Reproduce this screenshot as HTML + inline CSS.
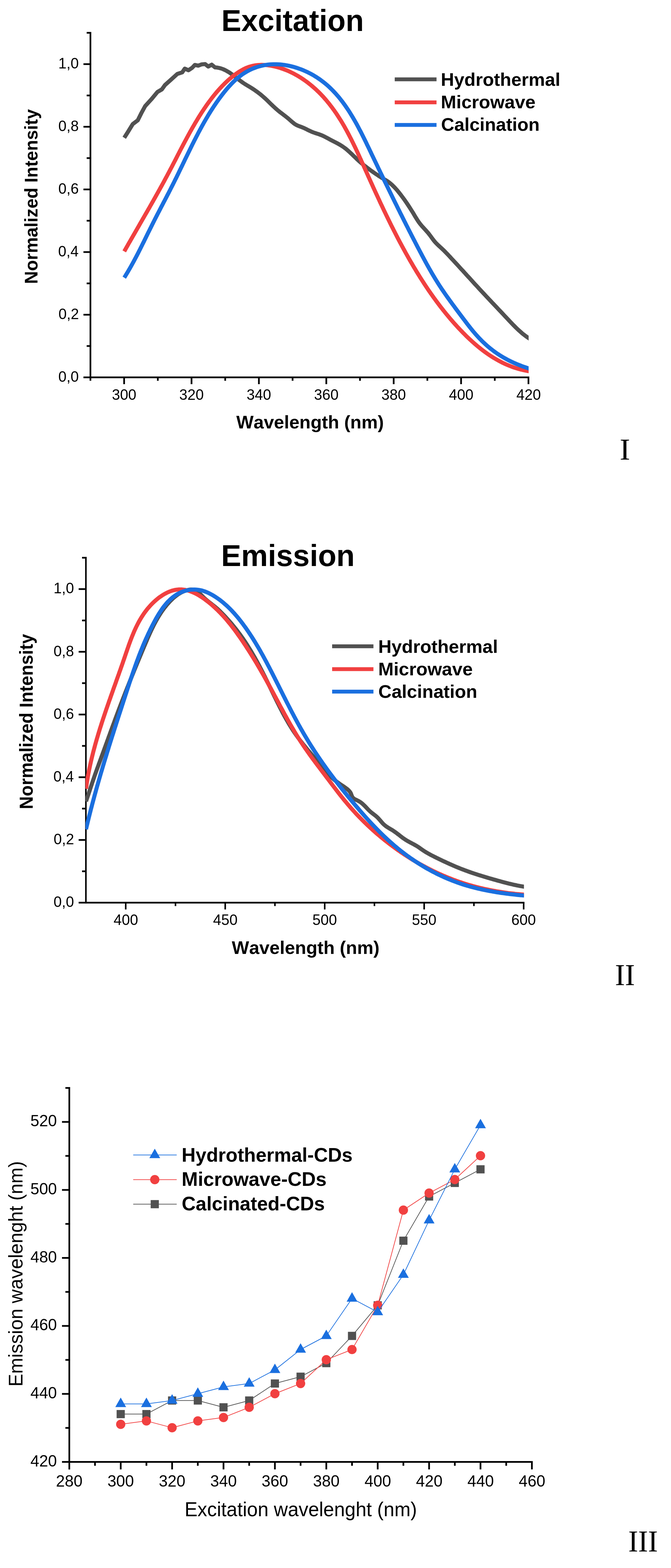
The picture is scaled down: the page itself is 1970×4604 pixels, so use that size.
<!DOCTYPE html>
<html lang="en">
<head>
<meta charset="utf-8">
<title>Excitation and emission spectra</title>
<style>
html,body{margin:0;padding:0;background:#fff;}
body{width:1970px;height:4604px;overflow:hidden;}
svg{display:block;font-kerning:none;font-variant-ligatures:none;}
.ta{font-family:"Liberation Sans",sans-serif;fill:#000;}
.ts{font-family:"Liberation Serif",serif;fill:#000;}
.b{font-weight:bold;}
</style>
</head>
<body>
<svg width="1970" height="4604" viewBox="0 0 1970 4604" role="img" aria-label="Excitation and emission spectra of carbon dots">
<rect x="0" y="0" width="1970" height="4604" fill="#fff"/>
<clipPath id="c1"><rect x="0" y="0" width="1552" height="1200"/></clipPath>
<path d="M364.8 404.5 L375.4 387.7 L389.9 364.2 L404.4 353.3 L415.3 331.5 L426.2 311.5 L444.4 291.6 L462.5 269.8 L475.2 262.5 L484.3 249.8 L502.5 233.5 L520.6 217.2 L535.1 212.4 L542.4 201.5 L553.3 206.3 L564.2 199 L572.1 190.7 L582.3 192.8 L591.4 189.2 L602.3 188.1 L611.3 195.4 L621.5 189.9 L631.3 197.9 L637.3 198.4 L643.2 199.5 L649 201 L654.7 203 L660.2 205.5 L665.6 208.3 L670.7 211.3 L675.8 214.6 L680.7 218.1 L685.5 221.7 L690.3 225.4 L695.1 229.1 L699.8 232.8 L704.5 236.5 L709.4 240.1 L714.3 243.6 L719.3 246.9 L724.4 250 L729.6 253.1 L734.8 256.2 L739.9 259.4 L745 262.7 L749.9 266.1 L754.8 269.6 L759.6 273.2 L764.4 276.9 L769 280.8 L773.6 284.7 L778.1 288.7 L782.5 292.8 L786.8 297 L791.1 301.2 L795.4 305.4 L799.8 309.6 L804.1 313.7 L808.6 317.8 L813.1 321.8 L817.7 325.7 L822.4 329.5 L827.2 333.1 L832 336.7 L836.8 340.4 L841.5 344.1 L846.2 347.9 L850.7 351.9 L855.2 355.9 L859.8 359.8 L864.5 363.5 L869.6 366.7 L875.1 369.3 L880.7 371.4 L886.4 373.4 L891.9 375.7 L897.4 378.3 L902.7 381.1 L908.1 383.7 L913.6 386.2 L919.2 388.5 L924.9 390.5 L930.6 392.3 L936.3 394.2 L942 396.3 L947.5 398.6 L953 401.2 L958.3 404 L963.6 406.8 L968.9 409.7 L974.2 412.5 L979.6 415.3 L985 418 L990.3 420.8 L995.6 423.7 L1000.8 426.8 L1005.8 430 L1010.8 433.5 L1015.6 437.1 L1020.2 441 L1024.7 445 L1029.1 449.1 L1033.5 453.2 L1037.8 457.4 L1042.1 461.6 L1046.4 465.8 L1050.8 469.9 L1055.3 474 L1059.8 477.9 L1064.5 481.8 L1069.1 485.6 L1073.8 489.3 L1078.6 493 L1083.4 496.6 L1088.3 500.2 L1093.2 503.7 L1098.1 507.2 L1103.1 510.6 L1108.1 513.9 L1113.1 517.3 L1118.2 520.5 L1123.3 523.7 L1128.5 526.7 L1133.7 529.7 L1138.8 533 L1143.6 536.6 L1148.2 540.4 L1152.7 544.5 L1156.9 548.7 L1161.1 553.1 L1165.1 557.6 L1168.9 562.3 L1172.7 566.9 L1176.4 571.7 L1180 576.5 L1183.6 581.3 L1187.2 586.2 L1190.6 591.1 L1194.1 596.1 L1197.4 601.1 L1200.7 606.1 L1204 611.2 L1207.2 616.3 L1210.4 621.4 L1213.6 626.5 L1216.6 631.7 L1219.7 636.9 L1222.9 642 L1226.1 647.1 L1229.5 652.1 L1233.1 656.9 L1236.9 661.6 L1240.8 666.1 L1244.9 670.6 L1249 675 L1253 679.5 L1257 684 L1260.7 688.7 L1264.3 693.5 L1267.9 698.4 L1271.4 703.3 L1275.1 708 L1279.1 712.6 L1283.3 716.9 L1287.6 721 L1292.1 725.1 L1296.5 729.2 L1300.9 733.3 L1305.2 737.5 L1309.4 741.8 L1313.6 746.2 L1317.7 750.5 L1321.8 754.9 L1325.9 759.4 L1330 763.8 L1334.1 768.2 L1338.2 772.6 L1342.3 777.1 L1346.4 781.5 L1350.4 785.9 L1354.5 790.4 L1358.6 794.8 L1362.6 799.3 L1366.7 803.7 L1370.7 808.2 L1374.8 812.6 L1378.9 817.1 L1382.9 821.5 L1387 826 L1391 830.4 L1395.1 834.9 L1399.2 839.3 L1403.3 843.7 L1407.3 848.2 L1411.4 852.6 L1415.5 857 L1419.6 861.4 L1423.7 865.8 L1427.8 870.2 L1432 874.6 L1436.1 879 L1440.2 883.4 L1444.3 887.8 L1448.5 892.1 L1452.6 896.5 L1456.8 900.9 L1460.9 905.3 L1465 909.7 L1469.2 914 L1473.3 918.4 L1477.4 922.8 L1481.5 927.2 L1485.7 931.6 L1489.8 936 L1493.9 940.4 L1498 944.8 L1502.2 949.2 L1506.3 953.5 L1510.6 957.8 L1514.8 962 L1519.2 966.2 L1523.6 970.3 L1528.1 974.3 L1532.6 978.3 L1537.3 982.1 L1542.1 985.7 L1546.9 989.3 L1551.9 992.7 L1558.4 997.3" fill="none" stroke="#515151" stroke-width="11.9" stroke-linejoin="round" stroke-linecap="butt" clip-path="url(#c1)"/>
<path d="M364.8 738.1 L367.3 733.7 L369.7 729.4 L372.2 725 L374.7 720.7 L377.1 716.3 L379.6 712 L382.1 707.7 L384.6 703.3 L387.1 699 L389.6 694.6 L392.1 690.3 L394.6 686 L397.1 681.6 L399.6 677.3 L402.1 672.9 L404.6 668.6 L407.1 664.3 L409.5 659.9 L412 655.6 L414.5 651.3 L417 646.9 L419.5 642.6 L422 638.3 L424.5 633.9 L427 629.6 L429.5 625.2 L432 620.9 L434.5 616.6 L437 612.2 L439.5 607.9 L441.9 603.5 L444.4 599.2 L446.9 594.8 L449.4 590.5 L451.8 586.1 L454.3 581.8 L456.7 577.4 L459.2 573 L461.6 568.7 L464.1 564.3 L466.5 559.9 L468.9 555.6 L471.3 551.2 L473.8 546.8 L476.2 542.4 L478.6 538 L481 533.6 L483.4 529.2 L485.7 524.8 L488.1 520.4 L490.5 516 L492.8 511.6 L495.2 507.2 L497.5 502.8 L499.8 498.3 L502.1 493.9 L504.5 489.5 L506.8 485 L509.1 480.6 L511.4 476.1 L513.7 471.7 L516 467.2 L518.3 462.8 L520.5 458.4 L522.8 453.9 L525.1 449.5 L527.4 445 L529.7 440.6 L532 436.1 L534.4 431.7 L536.7 427.3 L539 422.8 L541.4 418.4 L543.7 414 L546.1 409.6 L548.4 405.2 L550.8 400.8 L553.2 396.4 L555.6 392 L558 387.6 L560.5 383.3 L562.9 378.9 L565.4 374.5 L567.9 370.2 L570.4 365.9 L572.9 361.6 L575.5 357.3 L578.1 353 L580.7 348.7 L583.3 344.4 L585.9 340.2 L588.6 336 L591.3 331.7 L594 327.5 L596.8 323.4 L599.5 319.2 L602.4 315.1 L605.2 310.9 L608.1 306.8 L611 302.8 L613.9 298.7 L616.9 294.7 L619.9 290.7 L623 286.7 L626.1 282.8 L629.2 278.9 L632.4 275 L635.6 271.2 L638.8 267.4 L642.1 263.7 L645.5 259.9 L648.9 256.3 L652.3 252.6 L655.8 249.1 L659.4 245.5 L663 242 L666.6 238.6 L670.3 235.2 L674 231.9 L677.8 228.7 L681.7 225.5 L685.6 222.3 L689.6 219.3 L693.6 216.3 L697.7 213.5 L701.9 210.7 L706.1 208.1 L710.5 205.6 L714.9 203.2 L719.4 201 L723.9 199 L728.6 197.2 L733.3 195.6 L738.2 194.2 L743 193 L747.9 192.1 L752.9 191.4 L757.9 190.9 L762.9 190.6 L767.9 190.5 L772.9 190.6 L777.9 190.8 L782.9 191.2 L787.8 191.8 L792.8 192.5 L797.7 193.3 L802.6 194.3 L807.5 195.4 L812.4 196.6 L817.2 198 L822 199.4 L826.7 201 L831.4 202.6 L836.1 204.4 L840.8 206.2 L845.4 208.1 L850 210.2 L854.5 212.3 L859 214.5 L863.4 216.8 L867.8 219.2 L872.2 221.6 L876.5 224.2 L880.8 226.8 L885 229.5 L889.2 232.3 L893.3 235.1 L897.4 238 L901.4 240.9 L905.4 244 L909.3 247.1 L913.2 250.2 L917 253.4 L920.8 256.7 L924.6 260 L928.3 263.4 L931.9 266.8 L935.5 270.3 L939 273.8 L942.5 277.4 L946 281.1 L949.4 284.7 L952.7 288.5 L956 292.2 L959.2 296 L962.4 299.9 L965.6 303.8 L968.7 307.7 L971.7 311.7 L974.8 315.6 L977.7 319.7 L980.7 323.7 L983.5 327.8 L986.4 331.9 L989.2 336.1 L991.9 340.3 L994.6 344.5 L997.3 348.7 L1000 352.9 L1002.6 357.2 L1005.2 361.5 L1007.7 365.8 L1010.2 370.1 L1012.7 374.5 L1015.1 378.9 L1017.5 383.2 L1019.9 387.6 L1022.3 392.1 L1024.6 396.5 L1026.9 400.9 L1029.2 405.4 L1031.5 409.8 L1033.7 414.3 L1035.9 418.8 L1038.1 423.3 L1040.3 427.8 L1042.5 432.3 L1044.6 436.8 L1046.7 441.4 L1048.9 445.9 L1051 450.4 L1053.1 455 L1055.1 459.5 L1057.2 464.1 L1059.3 468.6 L1061.3 473.2 L1063.4 477.7 L1065.5 482.3 L1067.5 486.9 L1069.5 491.4 L1071.6 496 L1073.6 500.6 L1075.7 505.1 L1077.7 509.7 L1079.8 514.3 L1081.8 518.8 L1083.9 523.4 L1085.9 528 L1088 532.5 L1090 537.1 L1092.1 541.6 L1094.2 546.2 L1096.2 550.8 L1098.3 555.3 L1100.4 559.9 L1102.5 564.4 L1104.6 569 L1106.7 573.5 L1108.8 578 L1110.9 582.6 L1113 587.1 L1115.1 591.7 L1117.2 596.2 L1119.3 600.7 L1121.5 605.2 L1123.6 609.8 L1125.7 614.3 L1127.9 618.8 L1130.1 623.3 L1132.2 627.8 L1134.4 632.3 L1136.6 636.8 L1138.8 641.3 L1141 645.8 L1143.2 650.3 L1145.4 654.8 L1147.6 659.3 L1149.8 663.8 L1152.1 668.2 L1154.3 672.7 L1156.6 677.2 L1158.9 681.6 L1161.1 686.1 L1163.4 690.5 L1165.7 695 L1168 699.4 L1170.3 703.9 L1172.7 708.3 L1175 712.7 L1177.4 717.1 L1179.7 721.5 L1182.1 725.9 L1184.5 730.3 L1186.9 734.7 L1189.3 739.1 L1191.7 743.5 L1194.2 747.9 L1196.6 752.2 L1199.1 756.6 L1201.5 760.9 L1204 765.3 L1206.5 769.6 L1209.1 773.9 L1211.6 778.2 L1214.1 782.6 L1216.7 786.9 L1219.3 791.1 L1221.8 795.4 L1224.4 799.7 L1227.1 804 L1229.7 808.2 L1232.3 812.5 L1235 816.7 L1237.7 820.9 L1240.4 825.1 L1243.1 829.3 L1245.8 833.5 L1248.6 837.7 L1251.3 841.9 L1254.1 846 L1256.9 850.2 L1259.7 854.3 L1262.6 858.4 L1265.4 862.6 L1268.3 866.6 L1271.2 870.7 L1274.1 874.8 L1277.1 878.8 L1280 882.9 L1283 886.9 L1286 890.9 L1289 894.9 L1292 898.9 L1295.1 902.9 L1298.2 906.8 L1301.3 910.7 L1304.4 914.6 L1307.5 918.5 L1310.7 922.4 L1313.9 926.3 L1317.1 930.1 L1320.3 934 L1323.5 937.8 L1326.8 941.5 L1330.1 945.3 L1333.4 949.1 L1336.7 952.8 L1340.1 956.5 L1343.5 960.2 L1346.9 963.9 L1350.3 967.5 L1353.8 971.1 L1357.2 974.7 L1360.7 978.3 L1364.3 981.8 L1367.8 985.4 L1371.4 988.9 L1375 992.3 L1378.6 995.8 L1382.3 999.2 L1386 1002.6 L1389.7 1005.9 L1393.5 1009.2 L1397.3 1012.5 L1401.1 1015.7 L1404.9 1018.9 L1408.8 1022 L1412.7 1025.1 L1416.7 1028.2 L1420.7 1031.2 L1424.7 1034.2 L1428.8 1037.1 L1432.9 1040 L1437 1042.8 L1441.2 1045.5 L1445.4 1048.2 L1449.7 1050.9 L1454 1053.4 L1458.3 1055.9 L1462.7 1058.4 L1467.1 1060.8 L1471.5 1063.1 L1476 1065.3 L1480.5 1067.5 L1485.1 1069.6 L1489.6 1071.6 L1494.3 1073.5 L1498.9 1075.3 L1503.6 1077.1 L1508.3 1078.8 L1513 1080.4 L1517.8 1081.9 L1522.6 1083.3 L1527.4 1084.6 L1532.3 1085.8 L1537.2 1087 L1542.1 1088 L1547 1088.9 L1551.9 1089.8 L1559.8 1091.2" fill="none" stroke="#F14040" stroke-width="11.9" stroke-linejoin="round" stroke-linecap="butt" clip-path="url(#c1)"/>
<path d="M364.8 815.2 L367.5 811 L370.1 806.7 L372.7 802.4 L375.3 798.1 L377.8 793.8 L380.3 789.5 L382.8 785.1 L385.2 780.8 L387.7 776.4 L390.1 772 L392.5 767.6 L394.9 763.2 L397.2 758.8 L399.5 754.4 L401.9 749.9 L404.2 745.5 L406.5 741 L408.7 736.6 L411 732.1 L413.2 727.6 L415.5 723.1 L417.7 718.7 L419.9 714.2 L422.2 709.7 L424.4 705.2 L426.6 700.7 L428.8 696.2 L431 691.7 L433.2 687.2 L435.4 682.7 L437.6 678.3 L439.8 673.8 L442.1 669.3 L444.3 664.8 L446.5 660.3 L448.8 655.8 L451 651.4 L453.3 646.9 L455.5 642.4 L457.8 638 L460.1 633.5 L462.4 629.1 L464.7 624.6 L467 620.2 L469.3 615.7 L471.6 611.3 L473.9 606.8 L476.2 602.4 L478.5 598 L480.8 593.5 L483.2 589.1 L485.5 584.6 L487.8 580.2 L490.1 575.8 L492.4 571.3 L494.7 566.9 L497 562.4 L499.3 558 L501.5 553.5 L503.8 549 L506.1 544.6 L508.3 540.1 L510.6 535.6 L512.8 531.2 L515 526.7 L517.3 522.2 L519.5 517.7 L521.7 513.2 L523.9 508.7 L526 504.2 L528.2 499.7 L530.4 495.2 L532.6 490.7 L534.8 486.2 L536.9 481.6 L539.1 477.1 L541.3 472.6 L543.4 468.1 L545.6 463.6 L547.8 459.1 L550 454.6 L552.2 450.1 L554.4 445.6 L556.6 441.1 L558.8 436.6 L561 432.1 L563.2 427.6 L565.4 423.1 L567.7 418.7 L569.9 414.2 L572.2 409.7 L574.5 405.3 L576.8 400.8 L579.1 396.4 L581.4 391.9 L583.7 387.5 L586.1 383.1 L588.4 378.7 L590.8 374.3 L593.2 369.9 L595.7 365.5 L598.1 361.2 L600.6 356.8 L603.1 352.5 L605.6 348.1 L608.2 343.8 L610.7 339.5 L613.3 335.2 L615.9 331 L618.6 326.7 L621.3 322.5 L624 318.3 L626.7 314.1 L629.5 309.9 L632.3 305.8 L635.1 301.7 L638 297.6 L640.9 293.5 L643.8 289.4 L646.8 285.4 L649.8 281.4 L652.9 277.4 L655.9 273.5 L659.1 269.6 L662.2 265.7 L665.4 261.8 L668.7 258 L672 254.3 L675.4 250.6 L678.8 246.9 L682.3 243.3 L685.8 239.8 L689.5 236.4 L693.2 233 L696.9 229.7 L700.8 226.5 L704.7 223.4 L708.7 220.4 L712.8 217.5 L717 214.8 L721.3 212.1 L725.6 209.6 L730 207.2 L734.5 205 L739 202.9 L743.6 200.9 L748.3 199.1 L753 197.4 L757.8 195.9 L762.6 194.5 L767.4 193.2 L772.3 192.1 L777.2 191.2 L782.2 190.4 L787.1 189.7 L792.1 189.2 L797.1 188.9 L802.1 188.7 L807.1 188.6 L812.1 188.7 L817.1 188.9 L822.1 189.3 L827.1 189.7 L832.1 190.3 L837 191 L841.9 191.9 L846.9 192.8 L851.7 193.9 L856.6 195.1 L861.5 196.3 L866.3 197.7 L871.1 199.2 L875.8 200.8 L880.5 202.5 L885.2 204.2 L889.8 206.1 L894.5 208.1 L899 210.1 L903.5 212.2 L908 214.5 L912.5 216.8 L916.9 219.2 L921.2 221.7 L925.5 224.3 L929.7 226.9 L933.9 229.7 L938 232.5 L942.1 235.4 L946.1 238.4 L950.1 241.5 L954 244.6 L957.8 247.8 L961.6 251.1 L965.3 254.4 L969 257.9 L972.6 261.3 L976.1 264.9 L979.6 268.5 L983 272.1 L986.4 275.8 L989.7 279.6 L993 283.4 L996.2 287.2 L999.3 291.1 L1002.4 295.1 L1005.5 299 L1008.4 303.1 L1011.4 307.1 L1014.3 311.2 L1017.1 315.3 L1019.9 319.5 L1022.7 323.6 L1025.4 327.8 L1028.1 332.1 L1030.7 336.3 L1033.3 340.6 L1035.9 344.9 L1038.4 349.2 L1040.9 353.5 L1043.4 357.9 L1045.9 362.3 L1048.3 366.7 L1050.7 371.1 L1053 375.5 L1055.3 379.9 L1057.7 384.3 L1060 388.8 L1062.2 393.2 L1064.5 397.7 L1066.7 402.2 L1069 406.7 L1071.2 411.2 L1073.4 415.7 L1075.6 420.2 L1077.7 424.7 L1079.9 429.2 L1082.1 433.7 L1084.3 438.2 L1086.4 442.7 L1088.6 447.2 L1090.7 451.8 L1092.9 456.3 L1095.1 460.8 L1097.2 465.3 L1099.4 469.8 L1101.6 474.3 L1103.7 478.8 L1105.9 483.3 L1108.1 487.9 L1110.2 492.4 L1112.4 496.9 L1114.6 501.4 L1116.7 505.9 L1118.9 510.4 L1121.1 514.9 L1123.3 519.4 L1125.5 523.9 L1127.6 528.4 L1129.8 532.9 L1132 537.4 L1134.2 541.9 L1136.4 546.4 L1138.6 550.9 L1140.8 555.4 L1143 559.9 L1145.2 564.4 L1147.4 568.9 L1149.6 573.4 L1151.8 577.9 L1154 582.4 L1156.2 586.9 L1158.4 591.4 L1160.6 595.9 L1162.9 600.4 L1165.1 604.9 L1167.3 609.4 L1169.5 613.8 L1171.8 618.3 L1174 622.8 L1176.2 627.3 L1178.5 631.8 L1180.7 636.2 L1182.9 640.7 L1185.2 645.2 L1187.4 649.7 L1189.7 654.1 L1191.9 658.6 L1194.2 663.1 L1196.5 667.5 L1198.7 672 L1201 676.5 L1203.3 680.9 L1205.6 685.4 L1207.8 689.8 L1210.1 694.3 L1212.4 698.7 L1214.7 703.2 L1217 707.6 L1219.3 712.1 L1221.6 716.5 L1223.9 721 L1226.2 725.4 L1228.5 729.8 L1230.9 734.3 L1233.2 738.7 L1235.5 743.1 L1237.9 747.6 L1240.2 752 L1242.6 756.4 L1244.9 760.8 L1247.3 765.2 L1249.7 769.6 L1252.1 774 L1254.5 778.4 L1257 782.8 L1259.4 787.1 L1261.9 791.5 L1264.4 795.8 L1266.9 800.2 L1269.4 804.5 L1272 808.8 L1274.5 813.1 L1277.1 817.4 L1279.7 821.6 L1282.4 825.9 L1285 830.1 L1287.7 834.4 L1290.4 838.6 L1293.2 842.8 L1295.9 846.9 L1298.7 851.1 L1301.5 855.2 L1304.4 859.4 L1307.2 863.5 L1310.1 867.6 L1313 871.7 L1315.9 875.8 L1318.8 879.8 L1321.7 883.9 L1324.7 887.9 L1327.6 892 L1330.6 896 L1333.6 900 L1336.5 904.1 L1339.5 908.1 L1342.5 912.1 L1345.5 916.1 L1348.5 920.1 L1351.5 924.1 L1354.5 928.1 L1357.5 932.1 L1360.5 936.1 L1363.6 940.1 L1366.6 944.1 L1369.6 948.1 L1372.6 952.1 L1375.7 956 L1378.8 960 L1381.9 963.9 L1385 967.8 L1388.2 971.7 L1391.4 975.5 L1394.7 979.3 L1398 983.1 L1401.3 986.8 L1404.7 990.5 L1408.1 994.1 L1411.6 997.7 L1415.1 1001.3 L1418.7 1004.8 L1422.4 1008.2 L1426 1011.6 L1429.8 1014.9 L1433.6 1018.2 L1437.4 1021.4 L1441.3 1024.6 L1445.3 1027.6 L1449.2 1030.7 L1453.3 1033.6 L1457.4 1036.5 L1461.5 1039.3 L1465.7 1042 L1470 1044.7 L1474.2 1047.3 L1478.5 1049.9 L1482.9 1052.3 L1487.3 1054.7 L1491.7 1057.1 L1496.2 1059.3 L1500.7 1061.6 L1505.2 1063.7 L1509.7 1065.8 L1514.3 1067.8 L1518.9 1069.7 L1523.6 1071.6 L1528.2 1073.4 L1532.9 1075.2 L1537.6 1076.9 L1542.4 1078.5 L1547.1 1080.1 L1551.9 1081.6 L1559.5 1084.1" fill="none" stroke="#1A6FDF" stroke-width="11.9" stroke-linejoin="round" stroke-linecap="butt" clip-path="url(#c1)"/>
<rect x="263" y="93.8" width="5" height="1024.2" fill="#000"/>
<rect x="245" y="1105.5" width="1309" height="5" fill="#000"/>
<rect x="254.5" y="1013.5" width="8.5" height="5" fill="#000"/>
<rect x="245" y="921.6" width="18" height="5" fill="#000"/>
<rect x="254.5" y="829.6" width="8.5" height="5" fill="#000"/>
<rect x="245" y="737.6" width="18" height="5" fill="#000"/>
<rect x="254.5" y="645.6" width="8.5" height="5" fill="#000"/>
<rect x="245" y="553.7" width="18" height="5" fill="#000"/>
<rect x="254.5" y="461.7" width="8.5" height="5" fill="#000"/>
<rect x="245" y="369.7" width="18" height="5" fill="#000"/>
<rect x="254.5" y="277.8" width="8.5" height="5" fill="#000"/>
<rect x="245" y="185.8" width="18" height="5" fill="#000"/>
<rect x="254.5" y="93.8" width="8.5" height="5" fill="#000"/>
<rect x="361.9" y="1108" width="5" height="20" fill="#000"/>
<rect x="460.8" y="1108" width="5" height="10" fill="#000"/>
<rect x="559.8" y="1108" width="5" height="20" fill="#000"/>
<rect x="658.7" y="1108" width="5" height="10" fill="#000"/>
<rect x="757.6" y="1108" width="5" height="20" fill="#000"/>
<rect x="856.5" y="1108" width="5" height="10" fill="#000"/>
<rect x="955.5" y="1108" width="5" height="20" fill="#000"/>
<rect x="1054.4" y="1108" width="5" height="10" fill="#000"/>
<rect x="1153.3" y="1108" width="5" height="20" fill="#000"/>
<rect x="1252.2" y="1108" width="5" height="10" fill="#000"/>
<rect x="1351.2" y="1108" width="5" height="20" fill="#000"/>
<rect x="1450.1" y="1108" width="5" height="10" fill="#000"/>
<rect x="1549" y="1108" width="5" height="20" fill="#000"/>
<text class="ta" transform="translate(171.28 1120.70) scale(0.9670 1)" font-size="44.60">0,0</text>
<text class="ta" transform="translate(171.71 936.76) scale(0.9670 1)" font-size="44.60">0,2</text>
<text class="ta" transform="translate(170.85 752.82) scale(0.9670 1)" font-size="44.60">0,4</text>
<text class="ta" transform="translate(171.28 568.88) scale(0.9670 1)" font-size="44.60">0,6</text>
<text class="ta" transform="translate(171.28 384.94) scale(0.9670 1)" font-size="44.60">0,8</text>
<text class="ta" transform="translate(171.28 201.00) scale(0.9670 1)" font-size="44.60">1,0</text>
<text class="ta" transform="translate(328.41 1174.00) scale(0.9670 1)" font-size="44.60">300</text>
<text class="ta" transform="translate(526.26 1174.00) scale(0.9670 1)" font-size="44.60">320</text>
<text class="ta" transform="translate(724.10 1174.00) scale(0.9670 1)" font-size="44.60">340</text>
<text class="ta" transform="translate(921.95 1174.00) scale(0.9670 1)" font-size="44.60">360</text>
<text class="ta" transform="translate(1119.79 1174.00) scale(0.9670 1)" font-size="44.60">380</text>
<text class="ta" transform="translate(1318.07 1174.00) scale(0.9670 1)" font-size="44.60">400</text>
<text class="ta" transform="translate(1515.92 1174.00) scale(0.9670 1)" font-size="44.60">420</text>
<text class="ta b" transform="translate(693.80 1258.00) scale(0.9998 1)" font-size="53.78">Wavelength (nm)</text>
<text class="ta b" transform="translate(109.80 833.67) rotate(-90) scale(0.9627 1)" font-size="54.51">Normalized Intensity</text>
<text class="ta b" transform="translate(650.08 90.70) scale(0.9883 1)" font-size="88.52">Excitation</text>
<rect x="1158.9" y="227.3" width="122.7" height="11.3" fill="#515151"/>
<text class="ta b" transform="translate(1294.32 251.90) scale(1.0083 1)" font-size="53.49">Hydrothermal</text>
<rect x="1158.9" y="294.9" width="122.7" height="11.3" fill="#F14040"/>
<text class="ta b" transform="translate(1294.30 318.00) scale(1.0158 1)" font-size="53.49">Microwave</text>
<rect x="1158.9" y="361.2" width="122.7" height="11.3" fill="#1A6FDF"/>
<text class="ta b" transform="translate(1294.95 384.20) scale(1.0041 1)" font-size="53.49">Calcination</text>
<text class="ts" transform="translate(1819.29 1348.90) scale(1.0450 1)" font-size="88.70">I</text>
<rect x="249.9" y="1635.1" width="4.6" height="1017.8" fill="#000"/>
<rect x="230.9" y="2647.9" width="1308.8" height="5" fill="#000"/>
<rect x="240.9" y="2555.8" width="9" height="5" fill="#000"/>
<rect x="230.9" y="2463.8" width="19" height="5" fill="#000"/>
<rect x="240.9" y="2371.7" width="9" height="5" fill="#000"/>
<rect x="230.9" y="2279.6" width="19" height="5" fill="#000"/>
<rect x="240.9" y="2187.6" width="9" height="5" fill="#000"/>
<rect x="230.9" y="2095.5" width="19" height="5" fill="#000"/>
<rect x="240.9" y="2003.4" width="9" height="5" fill="#000"/>
<rect x="230.9" y="1911.3" width="19" height="5" fill="#000"/>
<rect x="240.9" y="1819.3" width="9" height="5" fill="#000"/>
<rect x="230.9" y="1727.2" width="19" height="5" fill="#000"/>
<rect x="240.9" y="1635.1" width="9" height="5" fill="#000"/>
<rect x="366.8" y="2650.4" width="4.6" height="20" fill="#000"/>
<rect x="512.9" y="2650.4" width="4.6" height="10" fill="#000"/>
<rect x="658.9" y="2650.4" width="4.6" height="20" fill="#000"/>
<rect x="804.9" y="2650.4" width="4.6" height="10" fill="#000"/>
<rect x="951" y="2650.4" width="4.6" height="20" fill="#000"/>
<rect x="1097" y="2650.4" width="4.6" height="10" fill="#000"/>
<rect x="1243" y="2650.4" width="4.6" height="20" fill="#000"/>
<rect x="1389.1" y="2650.4" width="4.6" height="10" fill="#000"/>
<rect x="1535.1" y="2650.4" width="4.6" height="20" fill="#000"/>
<clipPath id="c2"><rect x="250.8" y="1500" width="1287.5" height="1200"/></clipPath>
<path d="M252.5 2353 L253.8 2349.2 L255.1 2345.4 L256.4 2341.6 L257.7 2337.9 L259 2334.1 L260.3 2330.3 L261.5 2326.5 L262.8 2322.7 L264 2318.9 L265.3 2315.1 L266.5 2311.3 L267.8 2307.5 L269.1 2303.7 L270.3 2299.9 L271.6 2296.1 L272.9 2292.3 L274.2 2288.5 L275.5 2284.7 L276.8 2280.9 L278.1 2277.1 L279.4 2273.3 L280.8 2269.6 L282.1 2265.8 L283.5 2262 L284.8 2258.3 L286.2 2254.5 L287.6 2250.7 L289 2247 L290.3 2243.2 L291.7 2239.5 L293.1 2235.7 L294.5 2231.9 L295.9 2228.2 L297.2 2224.4 L298.6 2220.7 L300 2216.9 L301.3 2213.1 L302.7 2209.4 L304.1 2205.6 L305.5 2201.9 L306.8 2198.1 L308.2 2194.3 L309.6 2190.6 L310.9 2186.8 L312.3 2183 L313.7 2179.3 L315 2175.5 L316.4 2171.8 L317.8 2168 L319.1 2164.2 L320.5 2160.5 L321.9 2156.7 L323.3 2152.9 L324.6 2149.2 L326 2145.4 L327.4 2141.7 L328.7 2137.9 L330.1 2134.1 L331.5 2130.4 L332.9 2126.6 L334.3 2122.9 L335.7 2119.1 L337 2115.3 L338.4 2111.6 L339.8 2107.8 L341.2 2104.1 L342.6 2100.3 L344 2096.6 L345.4 2092.8 L346.8 2089.1 L348.2 2085.3 L349.6 2081.6 L351.1 2077.8 L352.5 2074.1 L353.9 2070.4 L355.3 2066.6 L356.8 2062.9 L358.2 2059.1 L359.6 2055.4 L361.1 2051.7 L362.5 2047.9 L364 2044.2 L365.4 2040.5 L366.9 2036.7 L368.3 2033 L369.8 2029.3 L371.3 2025.5 L372.7 2021.8 L374.2 2018.1 L375.7 2014.4 L377.2 2010.7 L378.6 2006.9 L380.1 2003.2 L381.6 1999.5 L383.1 1995.8 L384.6 1992.1 L386.1 1988.4 L387.6 1984.6 L389.1 1980.9 L390.6 1977.2 L392.1 1973.5 L393.6 1969.8 L395.1 1966.1 L396.6 1962.4 L398.1 1958.7 L399.7 1955 L401.2 1951.3 L402.7 1947.6 L404.2 1943.9 L405.8 1940.2 L407.3 1936.5 L408.8 1932.8 L410.4 1929.1 L411.9 1925.4 L413.5 1921.7 L415 1918 L416.5 1914.3 L418.1 1910.6 L419.6 1906.9 L421.2 1903.2 L422.7 1899.5 L424.3 1895.8 L425.9 1892.1 L427.4 1888.5 L429 1884.8 L430.6 1881.1 L432.1 1877.4 L433.7 1873.7 L435.3 1870.1 L436.9 1866.4 L438.6 1862.7 L440.2 1859.1 L441.9 1855.5 L443.6 1851.8 L445.3 1848.2 L447 1844.6 L448.8 1841 L450.6 1837.4 L452.4 1833.8 L454.2 1830.3 L456.1 1826.8 L458 1823.2 L460 1819.7 L462 1816.3 L464 1812.8 L466 1809.4 L468.2 1806 L470.3 1802.6 L472.5 1799.2 L474.7 1795.9 L477 1792.6 L479.4 1789.4 L481.7 1786.2 L484.2 1783 L486.7 1779.9 L489.2 1776.8 L491.8 1773.7 L494.5 1770.7 L497.2 1767.8 L499.9 1764.8 L502.7 1762 L505.6 1759.2 L508.5 1756.5 L511.5 1753.8 L514.6 1751.3 L517.8 1748.8 L521 1746.5 L524.3 1744.2 L527.7 1742.1 L531.2 1740.1 L534.8 1738.3 L538.4 1736.6 L542.1 1735.2 L545.9 1733.8 L549.8 1732.7 L553.7 1731.8 L557.6 1731.2 L561.6 1730.9 L565.6 1731.1 L569.5 1731.9 L573.3 1733.3 L576.8 1735.2 L580.1 1737.5 L583.2 1740 L586.2 1742.6 L589.1 1745.4 L592 1748.2 L594.8 1751.1 L597.6 1753.9 L600.5 1756.7 L603.5 1759.4 L606.5 1762 L609.6 1764.6 L612.7 1767.1 L615.8 1769.6 L619 1772 L622.1 1774.5 L625.3 1776.9 L628.4 1779.4 L631.6 1781.9 L634.7 1784.5 L637.7 1787.1 L640.7 1789.7 L643.6 1792.5 L646.5 1795.3 L649.3 1798.1 L652.1 1800.9 L654.9 1803.8 L657.7 1806.7 L660.4 1809.6 L663.1 1812.6 L665.8 1815.5 L668.5 1818.5 L671.2 1821.5 L673.8 1824.5 L676.5 1827.5 L679.1 1830.5 L681.7 1833.6 L684.2 1836.7 L686.8 1839.8 L689.3 1842.9 L691.8 1846 L694.3 1849.2 L696.7 1852.3 L699.1 1855.5 L701.5 1858.7 L703.9 1861.9 L706.3 1865.2 L708.6 1868.4 L710.9 1871.7 L713.2 1875 L715.5 1878.3 L717.7 1881.6 L719.9 1884.9 L722.1 1888.3 L724.3 1891.6 L726.5 1895 L728.6 1898.4 L730.7 1901.8 L732.8 1905.2 L734.9 1908.6 L737 1912 L739.1 1915.5 L741.1 1918.9 L743.1 1922.4 L745.1 1925.9 L747.1 1929.3 L749.1 1932.8 L751 1936.3 L753 1939.8 L754.9 1943.3 L756.8 1946.8 L758.7 1950.4 L760.6 1953.9 L762.5 1957.4 L764.3 1961 L766.2 1964.5 L768 1968.1 L769.8 1971.7 L771.7 1975.2 L773.5 1978.8 L775.3 1982.4 L777.1 1985.9 L778.8 1989.5 L780.6 1993.1 L782.4 1996.7 L784.2 2000.3 L785.9 2003.9 L787.7 2007.5 L789.4 2011.1 L791.2 2014.7 L792.9 2018.3 L794.7 2021.9 L796.4 2025.5 L798.1 2029.1 L799.9 2032.7 L801.6 2036.3 L803.4 2039.9 L805.1 2043.5 L806.9 2047.1 L808.7 2050.7 L810.4 2054.3 L812.2 2057.9 L814 2061.5 L815.8 2065.1 L817.6 2068.7 L819.4 2072.2 L821.2 2075.8 L823 2079.4 L824.8 2082.9 L826.7 2086.5 L828.5 2090 L830.4 2093.6 L832.3 2097.1 L834.2 2100.6 L836.1 2104.1 L838.1 2107.6 L840 2111.1 L842 2114.6 L844 2118.1 L846 2121.5 L848 2125 L850.1 2128.4 L852.2 2131.8 L854.3 2135.2 L856.4 2138.6 L858.6 2142 L860.8 2145.4 L863 2148.7 L865.3 2152 L867.5 2155.3 L869.8 2158.6 L872.2 2161.8 L874.5 2165.1 L876.9 2168.3 L879.3 2171.5 L881.7 2174.7 L884.2 2177.8 L886.7 2181 L889.1 2184.1 L891.6 2187.3 L894.2 2190.4 L896.7 2193.5 L899.2 2196.6 L901.8 2199.7 L904.3 2202.7 L906.9 2205.8 L909.5 2208.9 L912 2211.9 L914.6 2215 L917.2 2218.1 L919.8 2221.1 L922.4 2224.2 L925 2227.2 L927.6 2230.3 L930.2 2233.3 L932.7 2236.4 L935.3 2239.5 L937.9 2242.6 L940.4 2245.6 L943 2248.7 L945.5 2251.8 L948.1 2254.9 L950.7 2257.9 L953.3 2261 L955.9 2264 L958.6 2267 L961.3 2270 L964 2272.9 L966.7 2275.8 L969.5 2278.7 L972.4 2281.5 L975.3 2284.2 L978.3 2286.9 L981.3 2289.5 L984.4 2292 L987.6 2294.5 L990.8 2296.9 L994.1 2299.2 L997.3 2301.5 L1000.6 2303.8 L1003.9 2306 L1007.3 2308.3 L1010.6 2310.5 L1013.9 2312.8 L1017.1 2315.2 L1020.3 2317.6 L1023.3 2320.3 L1026 2323.2 L1028.4 2326.4 L1030.3 2329.9 L1031.7 2333.7 L1033.1 2337.4 L1034.9 2341 L1037.6 2343.9 L1040.9 2346.2 L1044.5 2348 L1048.1 2349.7 L1051.7 2351.5 L1055.2 2353.4 L1058.5 2355.6 L1061.7 2358 L1064.8 2360.6 L1067.7 2363.3 L1070.6 2366.1 L1073.4 2369 L1076.1 2371.9 L1078.9 2374.8 L1081.6 2377.7 L1084.5 2380.5 L1087.4 2383.3 L1090.5 2385.9 L1093.6 2388.3 L1096.8 2390.8 L1100 2393.2 L1103.1 2395.7 L1106.2 2398.3 L1109.1 2401 L1111.8 2404 L1114.5 2407 L1117.1 2410 L1119.7 2413.1 L1122.3 2416.1 L1125 2419 L1127.9 2421.7 L1131 2424.3 L1134.2 2426.7 L1137.5 2428.9 L1140.9 2431 L1144.4 2433.1 L1147.8 2435.1 L1151.3 2437.2 L1154.7 2439.3 L1158 2441.6 L1161.2 2443.9 L1164.5 2446.3 L1167.6 2448.7 L1170.8 2451.1 L1174 2453.6 L1177.1 2456.1 L1180.3 2458.5 L1183.5 2460.9 L1186.8 2463.2 L1190.1 2465.4 L1193.5 2467.5 L1197 2469.6 L1200.5 2471.5 L1204 2473.4 L1207.5 2475.3 L1211.1 2477.2 L1214.6 2479 L1218.1 2481 L1221.6 2482.9 L1225 2485 L1228.4 2487.2 L1231.7 2489.5 L1235 2491.8 L1238.2 2494.1 L1241.5 2496.4 L1244.8 2498.6 L1248.2 2500.8 L1251.6 2502.9 L1255.1 2504.9 L1258.6 2506.9 L1262.1 2508.8 L1265.6 2510.7 L1269.2 2512.5 L1272.7 2514.3 L1276.3 2516.1 L1279.9 2517.9 L1283.5 2519.7 L1287.1 2521.4 L1290.7 2523.2 L1294.3 2524.9 L1297.9 2526.6 L1301.5 2528.3 L1305.2 2530 L1308.8 2531.7 L1312.4 2533.4 L1316.1 2535 L1319.7 2536.7 L1323.4 2538.3 L1327 2539.9 L1330.7 2541.5 L1334.4 2543.1 L1338.1 2544.7 L1341.8 2546.2 L1345.5 2547.7 L1349.2 2549.3 L1352.9 2550.7 L1356.6 2552.2 L1360.4 2553.6 L1364.1 2555.1 L1367.9 2556.4 L1371.6 2557.8 L1375.4 2559.2 L1379.2 2560.5 L1383 2561.8 L1386.7 2563.1 L1390.5 2564.4 L1394.3 2565.6 L1398.2 2566.9 L1402 2568.1 L1405.8 2569.3 L1409.6 2570.5 L1413.4 2571.7 L1417.3 2572.9 L1421.1 2574 L1424.9 2575.2 L1428.8 2576.3 L1432.6 2577.5 L1436.4 2578.6 L1440.3 2579.7 L1444.1 2580.8 L1448 2581.9 L1451.8 2583 L1455.7 2584.1 L1459.5 2585.2 L1463.4 2586.3 L1467.3 2587.3 L1471.1 2588.4 L1475 2589.5 L1478.8 2590.5 L1482.7 2591.5 L1486.6 2592.5 L1490.5 2593.5 L1494.4 2594.5 L1498.3 2595.4 L1502.2 2596.3 L1506.1 2597.2 L1510 2598.1 L1513.9 2598.9 L1517.8 2599.8 L1521.7 2600.5 L1525.7 2601.3 L1529.6 2602 L1533.5 2602.7 L1537.5 2603.3 L1545.4 2604.6" fill="none" stroke="#515151" stroke-width="11.9" stroke-linejoin="round" stroke-linecap="butt" clip-path="url(#c2)"/>
<path d="M252.5 2316 L253.2 2311 L253.9 2306.1 L254.6 2301.1 L255.4 2296.2 L256.2 2291.2 L257 2286.3 L257.8 2281.3 L258.7 2276.4 L259.6 2271.5 L260.6 2266.5 L261.5 2261.6 L262.5 2256.7 L263.6 2251.8 L264.6 2246.9 L265.7 2242 L266.8 2237.1 L267.9 2232.2 L269 2227.4 L270.2 2222.5 L271.4 2217.6 L272.6 2212.8 L273.8 2207.9 L275.1 2203 L276.4 2198.2 L277.7 2193.4 L279 2188.5 L280.3 2183.7 L281.7 2178.9 L283.1 2174 L284.4 2169.2 L285.9 2164.4 L287.3 2159.6 L288.7 2154.8 L290.2 2150 L291.7 2145.2 L293.1 2140.4 L294.6 2135.7 L296.2 2130.9 L297.7 2126.1 L299.2 2121.3 L300.8 2116.6 L302.3 2111.8 L303.9 2107.1 L305.5 2102.3 L307.1 2097.6 L308.7 2092.8 L310.3 2088.1 L311.9 2083.3 L313.6 2078.6 L315.2 2073.8 L316.8 2069.1 L318.5 2064.4 L320.1 2059.6 L321.8 2054.9 L323.5 2050.2 L325.1 2045.5 L326.8 2040.7 L328.5 2036 L330.2 2031.3 L331.8 2026.6 L333.5 2021.8 L335.2 2017.1 L336.9 2012.4 L338.6 2007.7 L340.3 2003 L341.9 1998.2 L343.6 1993.5 L345.3 1988.8 L347 1984.1 L348.7 1979.4 L350.3 1974.6 L352 1969.9 L353.7 1965.2 L355.3 1960.5 L357 1955.7 L358.7 1951 L360.3 1946.3 L361.9 1941.5 L363.6 1936.8 L365.2 1932 L366.8 1927.3 L368.4 1922.6 L370 1917.8 L371.7 1913.1 L373.3 1908.3 L374.9 1903.6 L376.6 1898.9 L378.2 1894.1 L379.9 1889.4 L381.7 1884.7 L383.4 1880 L385.2 1875.3 L387 1870.7 L388.9 1866 L390.8 1861.4 L392.7 1856.8 L394.7 1852.2 L396.8 1847.6 L398.9 1843 L401.1 1838.5 L403.3 1834.1 L405.6 1829.6 L408 1825.2 L410.5 1820.8 L413 1816.5 L415.6 1812.2 L418.3 1808 L421.1 1803.8 L423.9 1799.7 L426.9 1795.6 L429.9 1791.7 L433 1787.7 L436.3 1783.9 L439.6 1780.1 L442.9 1776.4 L446.4 1772.8 L450 1769.3 L453.6 1765.9 L457.4 1762.5 L461.2 1759.3 L465.1 1756.1 L469.1 1753.1 L473.2 1750.3 L477.4 1747.5 L481.7 1744.9 L486.1 1742.5 L490.5 1740.2 L495.1 1738.1 L499.8 1736.3 L504.5 1734.6 L509.3 1733.3 L514.2 1732.1 L519.1 1731.3 L524.1 1730.8 L529.1 1730.6 L534.1 1730.8 L539.1 1731.3 L544.1 1732.1 L549 1733.2 L553.8 1734.5 L558.6 1736.1 L563.2 1737.9 L567.8 1739.8 L572.4 1742 L576.8 1744.2 L581.2 1746.7 L585.5 1749.2 L589.8 1751.9 L594 1754.6 L598.1 1757.5 L602.2 1760.4 L606.2 1763.4 L610.2 1766.5 L614.1 1769.6 L617.9 1772.8 L621.8 1776 L625.5 1779.3 L629.3 1782.7 L632.9 1786.1 L636.6 1789.5 L640.2 1793 L643.7 1796.6 L647.2 1800.1 L650.7 1803.8 L654.1 1807.4 L657.5 1811.1 L660.8 1814.9 L664.1 1818.7 L667.3 1822.5 L670.5 1826.3 L673.7 1830.2 L676.9 1834.1 L680 1838.1 L683 1842 L686.1 1846 L689.1 1850 L692 1854 L695 1858.1 L697.9 1862.2 L700.8 1866.3 L703.7 1870.4 L706.5 1874.5 L709.4 1878.6 L712.2 1882.8 L715 1886.9 L717.8 1891.1 L720.6 1895.3 L723.3 1899.5 L726 1903.7 L728.7 1907.9 L731.4 1912.1 L734.1 1916.3 L736.8 1920.6 L739.4 1924.8 L742.1 1929.1 L744.7 1933.4 L747.3 1937.6 L749.9 1941.9 L752.5 1946.2 L755 1950.5 L757.6 1954.9 L760.1 1959.2 L762.6 1963.5 L765.1 1967.9 L767.6 1972.2 L770.1 1976.5 L772.6 1980.9 L775.1 1985.3 L777.5 1989.6 L780 1994 L782.4 1998.4 L784.8 2002.8 L787.3 2007.2 L789.7 2011.6 L792.1 2016 L794.5 2020.4 L796.8 2024.8 L799.2 2029.2 L801.6 2033.6 L804 2038 L806.3 2042.4 L808.7 2046.8 L811 2051.3 L813.4 2055.7 L815.8 2060.1 L818.1 2064.5 L820.5 2069 L822.8 2073.4 L825.2 2077.8 L827.6 2082.2 L830 2086.6 L832.4 2091 L834.7 2095.4 L837.1 2099.8 L839.6 2104.2 L842 2108.6 L844.4 2113 L846.9 2117.4 L849.3 2121.7 L851.8 2126.1 L854.3 2130.4 L856.8 2134.8 L859.3 2139.1 L861.9 2143.4 L864.4 2147.7 L867 2152 L869.6 2156.3 L872.2 2160.6 L874.9 2164.8 L877.5 2169.1 L880.2 2173.3 L882.9 2177.5 L885.7 2181.7 L888.5 2185.9 L891.3 2190.1 L894.1 2194.2 L896.9 2198.3 L899.8 2202.4 L902.7 2206.5 L905.6 2210.6 L908.5 2214.7 L911.4 2218.8 L914.3 2222.8 L917.3 2226.9 L920.3 2230.9 L923.3 2234.9 L926.2 2239 L929.2 2243 L932.3 2247 L935.3 2251 L938.3 2255 L941.3 2259 L944.3 2263 L947.4 2267 L950.4 2271 L953.4 2275 L956.4 2279 L959.5 2283 L962.5 2287 L965.5 2291 L968.5 2295 L971.5 2299 L974.6 2303 L977.6 2307 L980.6 2311 L983.7 2314.9 L986.7 2318.9 L989.8 2322.9 L992.8 2326.8 L995.9 2330.8 L999 2334.7 L1002.1 2338.7 L1005.3 2342.6 L1008.4 2346.5 L1011.6 2350.4 L1014.8 2354.2 L1018 2358.1 L1021.2 2361.9 L1024.5 2365.7 L1027.8 2369.5 L1031.1 2373.3 L1034.4 2377 L1037.8 2380.7 L1041.1 2384.4 L1044.5 2388.1 L1048 2391.8 L1051.4 2395.4 L1054.9 2399 L1058.4 2402.6 L1061.9 2406.2 L1065.5 2409.7 L1069 2413.2 L1072.6 2416.7 L1076.2 2420.2 L1079.8 2423.7 L1083.5 2427.1 L1087.2 2430.5 L1090.9 2433.9 L1094.6 2437.3 L1098.3 2440.6 L1102.1 2443.9 L1105.8 2447.2 L1109.6 2450.5 L1113.5 2453.7 L1117.3 2456.9 L1121.2 2460.1 L1125 2463.3 L1128.9 2466.5 L1132.9 2469.6 L1136.8 2472.7 L1140.8 2475.8 L1144.7 2478.8 L1148.7 2481.8 L1152.7 2484.8 L1156.8 2487.8 L1160.8 2490.7 L1164.9 2493.7 L1169 2496.6 L1173.1 2499.4 L1177.2 2502.3 L1181.4 2505.1 L1185.5 2507.9 L1189.7 2510.6 L1193.9 2513.4 L1198.1 2516.1 L1202.4 2518.8 L1206.6 2521.4 L1210.9 2524.1 L1215.2 2526.7 L1219.5 2529.2 L1223.8 2531.8 L1228.1 2534.3 L1232.5 2536.8 L1236.9 2539.2 L1241.3 2541.6 L1245.7 2544 L1250.1 2546.4 L1254.5 2548.7 L1259 2551 L1263.4 2553.3 L1267.9 2555.6 L1272.4 2557.8 L1276.9 2559.9 L1281.4 2562.1 L1286 2564.2 L1290.5 2566.3 L1295.1 2568.3 L1299.7 2570.4 L1304.3 2572.3 L1308.9 2574.3 L1313.6 2576.2 L1318.2 2578.1 L1322.9 2579.9 L1327.5 2581.7 L1332.2 2583.5 L1336.9 2585.2 L1341.6 2587 L1346.4 2588.6 L1351.1 2590.3 L1355.9 2591.8 L1360.6 2593.4 L1365.4 2594.9 L1370.2 2596.4 L1375 2597.9 L1379.8 2599.3 L1384.6 2600.6 L1389.4 2602 L1394.3 2603.3 L1399.1 2604.5 L1404 2605.8 L1408.9 2607 L1413.7 2608.1 L1418.6 2609.3 L1423.5 2610.4 L1428.4 2611.4 L1433.3 2612.4 L1438.2 2613.4 L1443.1 2614.4 L1448.1 2615.3 L1453 2616.2 L1457.9 2617.1 L1462.9 2617.9 L1467.8 2618.7 L1472.8 2619.5 L1477.7 2620.2 L1482.7 2620.9 L1487.7 2621.6 L1492.6 2622.3 L1497.6 2622.9 L1502.6 2623.5 L1507.6 2624 L1512.5 2624.6 L1517.5 2625.1 L1522.5 2625.5 L1527.5 2626 L1532.5 2626.4 L1537.5 2626.8 L1545.5 2627.4" fill="none" stroke="#F14040" stroke-width="11.9" stroke-linejoin="round" stroke-linecap="butt" clip-path="url(#c2)"/>
<path d="M252.5 2435 L253.6 2430.1 L254.8 2425.2 L256 2420.4 L257.1 2415.5 L258.3 2410.6 L259.5 2405.8 L260.7 2400.9 L261.9 2396 L263.1 2391.2 L264.4 2386.3 L265.6 2381.5 L266.8 2376.6 L268.1 2371.8 L269.4 2366.9 L270.6 2362.1 L271.9 2357.2 L273.2 2352.4 L274.5 2347.5 L275.8 2342.7 L277.1 2337.9 L278.4 2333 L279.8 2328.2 L281.1 2323.4 L282.4 2318.5 L283.8 2313.7 L285.1 2308.9 L286.5 2304.1 L287.9 2299.2 L289.3 2294.4 L290.6 2289.6 L292 2284.8 L293.4 2280 L294.8 2275.2 L296.2 2270.4 L297.6 2265.6 L299.1 2260.7 L300.5 2255.9 L301.9 2251.1 L303.3 2246.3 L304.8 2241.5 L306.2 2236.7 L307.7 2231.9 L309.1 2227.1 L310.6 2222.4 L312.1 2217.6 L313.5 2212.8 L315 2208 L316.5 2203.2 L318 2198.4 L319.4 2193.6 L320.9 2188.8 L322.4 2184.1 L323.9 2179.3 L325.4 2174.5 L326.9 2169.7 L328.4 2164.9 L329.9 2160.2 L331.5 2155.4 L333 2150.6 L334.5 2145.8 L336 2141.1 L337.5 2136.3 L339.1 2131.5 L340.6 2126.7 L342.1 2122 L343.7 2117.2 L345.2 2112.4 L346.7 2107.7 L348.3 2102.9 L349.8 2098.1 L351.4 2093.4 L352.9 2088.6 L354.5 2083.8 L356 2079.1 L357.6 2074.3 L359.1 2069.5 L360.7 2064.8 L362.2 2060 L363.8 2055.2 L365.3 2050.5 L366.9 2045.7 L368.4 2040.9 L370 2036.2 L371.5 2031.4 L373.1 2026.7 L374.6 2021.9 L376.2 2017.1 L377.8 2012.4 L379.3 2007.6 L380.9 2002.9 L382.5 1998.1 L384.1 1993.3 L385.7 1988.6 L387.3 1983.8 L388.9 1979.1 L390.5 1974.4 L392.2 1969.6 L393.8 1964.9 L395.5 1960.2 L397.1 1955.4 L398.8 1950.7 L400.5 1946 L402.2 1941.3 L404 1936.6 L405.7 1931.9 L407.5 1927.2 L409.3 1922.5 L411.1 1917.9 L412.9 1913.2 L414.8 1908.6 L416.7 1903.9 L418.6 1899.3 L420.5 1894.6 L422.4 1890 L424.4 1885.4 L426.4 1880.8 L428.4 1876.2 L430.5 1871.7 L432.6 1867.1 L434.7 1862.6 L436.8 1858 L439 1853.5 L441.1 1849 L443.4 1844.5 L445.6 1840 L447.9 1835.6 L450.2 1831.1 L452.5 1826.7 L454.9 1822.3 L457.3 1817.9 L459.8 1813.5 L462.3 1809.2 L464.9 1804.9 L467.5 1800.6 L470.2 1796.4 L473 1792.2 L475.8 1788.1 L478.7 1784 L481.8 1780 L484.9 1776.1 L488.1 1772.3 L491.4 1768.5 L494.9 1764.9 L498.5 1761.4 L502.2 1758 L506 1754.7 L509.9 1751.7 L514 1748.7 L518.2 1746 L522.5 1743.5 L527 1741.2 L531.5 1739.1 L536.2 1737.2 L540.9 1735.6 L545.7 1734.2 L550.6 1733.1 L555.5 1732.2 L560.5 1731.6 L565.5 1731.2 L570.5 1731 L575.5 1731.2 L580.5 1731.6 L585.5 1732.3 L590.4 1733.3 L595.2 1734.6 L600 1736.1 L604.7 1737.9 L609.3 1739.8 L613.9 1741.9 L618.3 1744.2 L622.7 1746.6 L627 1749.2 L631.3 1751.8 L635.5 1754.6 L639.6 1757.4 L643.7 1760.3 L647.7 1763.3 L651.6 1766.4 L655.5 1769.6 L659.3 1772.9 L663.1 1776.2 L666.8 1779.5 L670.4 1783 L674 1786.5 L677.5 1790 L681 1793.7 L684.4 1797.3 L687.8 1801 L691.1 1804.8 L694.4 1808.6 L697.6 1812.4 L700.8 1816.3 L703.9 1820.2 L707 1824.1 L710 1828.1 L713.1 1832.1 L716 1836.2 L719 1840.2 L721.9 1844.3 L724.7 1848.4 L727.6 1852.5 L730.4 1856.7 L733.2 1860.9 L735.9 1865 L738.7 1869.2 L741.4 1873.5 L744 1877.7 L746.7 1882 L749.3 1886.2 L751.9 1890.5 L754.5 1894.8 L757 1899.1 L759.6 1903.4 L762.1 1907.8 L764.6 1912.1 L767 1916.5 L769.5 1920.9 L771.9 1925.2 L774.3 1929.6 L776.7 1934 L779.1 1938.5 L781.5 1942.9 L783.8 1947.3 L786.1 1951.7 L788.5 1956.2 L790.8 1960.6 L793.1 1965.1 L795.4 1969.5 L797.7 1974 L800 1978.4 L802.2 1982.9 L804.5 1987.4 L806.8 1991.8 L809 1996.3 L811.3 2000.8 L813.5 2005.3 L815.8 2009.7 L818 2014.2 L820.3 2018.7 L822.5 2023.2 L824.8 2027.7 L827 2032.1 L829.3 2036.6 L831.5 2041.1 L833.8 2045.6 L836 2050 L838.3 2054.5 L840.5 2059 L842.8 2063.4 L845.1 2067.9 L847.4 2072.4 L849.7 2076.8 L852 2081.3 L854.3 2085.7 L856.6 2090.2 L858.9 2094.6 L861.3 2099 L863.6 2103.5 L866 2107.9 L868.3 2112.3 L870.7 2116.7 L873.1 2121.1 L875.5 2125.5 L877.9 2129.9 L880.4 2134.3 L882.8 2138.6 L885.3 2143 L887.8 2147.3 L890.3 2151.7 L892.8 2156 L895.4 2160.3 L897.9 2164.6 L900.5 2168.9 L903.1 2173.2 L905.7 2177.5 L908.3 2181.8 L911 2186 L913.7 2190.3 L916.4 2194.5 L919.1 2198.7 L921.8 2202.9 L924.5 2207.1 L927.3 2211.3 L930.1 2215.5 L932.8 2219.6 L935.6 2223.8 L938.5 2227.9 L941.3 2232 L944.2 2236.2 L947 2240.3 L949.9 2244.4 L952.8 2248.5 L955.7 2252.5 L958.6 2256.6 L961.6 2260.7 L964.5 2264.7 L967.5 2268.8 L970.5 2272.8 L973.5 2276.8 L976.5 2280.8 L979.5 2284.8 L982.5 2288.8 L985.5 2292.8 L988.6 2296.8 L991.7 2300.7 L994.7 2304.7 L997.8 2308.6 L1000.9 2312.6 L1004 2316.5 L1007.2 2320.4 L1010.3 2324.3 L1013.4 2328.2 L1016.6 2332.1 L1019.7 2336 L1022.9 2339.9 L1026.1 2343.8 L1029.3 2347.6 L1032.5 2351.5 L1035.7 2355.3 L1038.9 2359.2 L1042.1 2363 L1045.4 2366.9 L1048.6 2370.7 L1051.9 2374.5 L1055.1 2378.3 L1058.4 2382.1 L1061.7 2385.9 L1065 2389.6 L1068.3 2393.4 L1071.6 2397.1 L1075 2400.9 L1078.3 2404.6 L1081.7 2408.3 L1085.1 2412 L1088.5 2415.7 L1091.9 2419.3 L1095.3 2423 L1098.8 2426.6 L1102.3 2430.2 L1105.8 2433.8 L1109.3 2437.4 L1112.8 2441 L1116.3 2444.5 L1119.9 2448 L1123.5 2451.5 L1127.1 2455 L1130.7 2458.4 L1134.4 2461.9 L1138.1 2465.3 L1141.8 2468.7 L1145.5 2472 L1149.2 2475.3 L1153 2478.6 L1156.8 2481.9 L1160.6 2485.2 L1164.5 2488.4 L1168.3 2491.6 L1172.2 2494.7 L1176.1 2497.8 L1180.1 2500.9 L1184.1 2504 L1188 2507 L1192.1 2510 L1196.1 2513 L1200.2 2515.9 L1204.2 2518.8 L1208.4 2521.7 L1212.5 2524.5 L1216.6 2527.3 L1220.8 2530.1 L1225 2532.8 L1229.2 2535.5 L1233.5 2538.2 L1237.7 2540.8 L1242 2543.4 L1246.3 2546 L1250.7 2548.5 L1255 2551 L1259.4 2553.4 L1263.8 2555.8 L1268.2 2558.2 L1272.6 2560.5 L1277.1 2562.8 L1281.6 2565.1 L1286.1 2567.3 L1290.6 2569.5 L1295.1 2571.6 L1299.6 2573.7 L1304.2 2575.8 L1308.8 2577.8 L1313.4 2579.8 L1318 2581.7 L1322.7 2583.6 L1327.3 2585.5 L1332 2587.3 L1336.7 2589 L1341.4 2590.8 L1346.1 2592.4 L1350.9 2594.1 L1355.6 2595.7 L1360.4 2597.2 L1365.2 2598.7 L1369.9 2600.2 L1374.8 2601.6 L1379.6 2602.9 L1384.4 2604.3 L1389.3 2605.6 L1394.1 2606.8 L1399 2608 L1403.8 2609.2 L1408.7 2610.3 L1413.6 2611.4 L1418.5 2612.5 L1423.4 2613.5 L1428.3 2614.5 L1433.2 2615.4 L1438.2 2616.4 L1443.1 2617.2 L1448 2618.1 L1453 2618.9 L1457.9 2619.8 L1462.9 2620.5 L1467.8 2621.3 L1472.8 2622 L1477.7 2622.7 L1482.7 2623.4 L1487.7 2624 L1492.7 2624.6 L1497.6 2625.3 L1502.6 2625.8 L1507.6 2626.4 L1512.6 2626.9 L1517.5 2627.5 L1522.5 2628 L1527.5 2628.5 L1532.5 2628.9 L1537.5 2629.4 L1545.5 2630.1" fill="none" stroke="#1A6FDF" stroke-width="11.9" stroke-linejoin="round" stroke-linecap="butt" clip-path="url(#c2)"/>
<text class="ta" transform="translate(157.18 2663.10) scale(0.9670 1)" font-size="44.60">0,0</text>
<text class="ta" transform="translate(157.61 2478.96) scale(0.9670 1)" font-size="44.60">0,2</text>
<text class="ta" transform="translate(156.75 2294.82) scale(0.9670 1)" font-size="44.60">0,4</text>
<text class="ta" transform="translate(157.18 2110.68) scale(0.9670 1)" font-size="44.60">0,6</text>
<text class="ta" transform="translate(157.18 1926.54) scale(0.9670 1)" font-size="44.60">0,8</text>
<text class="ta" transform="translate(157.18 1742.40) scale(0.9670 1)" font-size="44.60">1,0</text>
<text class="ta" transform="translate(333.55 2716.10) scale(0.9670 1)" font-size="44.60">400</text>
<text class="ta" transform="translate(625.62 2716.10) scale(0.9670 1)" font-size="44.60">450</text>
<text class="ta" transform="translate(917.26 2716.10) scale(0.9670 1)" font-size="44.60">500</text>
<text class="ta" transform="translate(1209.33 2716.10) scale(0.9670 1)" font-size="44.60">550</text>
<text class="ta" transform="translate(1501.18 2716.10) scale(0.9670 1)" font-size="44.60">600</text>
<text class="ta b" transform="translate(680.60 2800.60) scale(1.0010 1)" font-size="53.78">Wavelength (nm)</text>
<text class="ta b" transform="translate(95.90 2375.88) rotate(-90) scale(0.9630 1)" font-size="54.65">Normalized Intensity</text>
<text class="ta b" transform="translate(649.23 1662.10) scale(0.9901 1)" font-size="89.10">Emission</text>
<rect x="975.1" y="1892" width="121.3" height="11.3" fill="#515151"/>
<text class="ta b" transform="translate(1110.52 1916.60) scale(1.0097 1)" font-size="53.49">Hydrothermal</text>
<rect x="975.1" y="1959.1" width="121.3" height="11.3" fill="#F14040"/>
<text class="ta b" transform="translate(1110.50 1982.70) scale(1.0143 1)" font-size="53.49">Microwave</text>
<rect x="975.1" y="2025.1" width="121.3" height="11.3" fill="#1A6FDF"/>
<text class="ta b" transform="translate(1110.74 2048.80) scale(1.0072 1)" font-size="53.49">Calcination</text>
<text class="ts" transform="translate(1805.47 2892.00) scale(0.9955 1)" font-size="88.70">II</text>
<path d="M354.4 4152.1 L429.9 4152.1 L505.3 4112.2 L580.8 4112.2 L656.2 4132.2 L731.6 4112.2 L807.1 4062.3 L882.5 4042.3 L958 4002.4 L1033.5 3922.5 L1108.9 3832.7 L1184.3 3643 L1259.8 3513.2 L1335.2 3473.3 L1410.7 3433.4" fill="none" stroke="#515151" stroke-width="2" stroke-linejoin="round" stroke-linecap="butt"/>
<rect x="342.4" y="4140.1" width="24" height="24" fill="#515151"/>
<rect x="417.9" y="4140.1" width="24" height="24" fill="#515151"/>
<rect x="493.3" y="4100.2" width="24" height="24" fill="#515151"/>
<rect x="568.8" y="4100.2" width="24" height="24" fill="#515151"/>
<rect x="644.2" y="4120.2" width="24" height="24" fill="#515151"/>
<rect x="719.6" y="4100.2" width="24" height="24" fill="#515151"/>
<rect x="795.1" y="4050.3" width="24" height="24" fill="#515151"/>
<rect x="870.5" y="4030.3" width="24" height="24" fill="#515151"/>
<rect x="946" y="3990.4" width="24" height="24" fill="#515151"/>
<rect x="1021.5" y="3910.5" width="24" height="24" fill="#515151"/>
<rect x="1096.9" y="3820.7" width="24" height="24" fill="#515151"/>
<rect x="1172.3" y="3631" width="24" height="24" fill="#515151"/>
<rect x="1247.8" y="3501.2" width="24" height="24" fill="#515151"/>
<rect x="1323.2" y="3461.3" width="24" height="24" fill="#515151"/>
<rect x="1398.7" y="3421.4" width="24" height="24" fill="#515151"/>
<path d="M354.4 4182.1 L429.9 4172.1 L505.3 4192.1 L580.8 4172.1 L656.2 4162.1 L731.6 4132.2 L807.1 4092.2 L882.5 4062.3 L958 3992.4 L1033.5 3962.5 L1108.9 3832.7 L1184.3 3553.2 L1259.8 3503.2 L1335.2 3463.3 L1410.7 3393.4" fill="none" stroke="#F14040" stroke-width="2" stroke-linejoin="round" stroke-linecap="butt"/>
<circle cx="354.4" cy="4182.1" r="13.6" fill="#F14040"/>
<circle cx="429.9" cy="4172.1" r="13.6" fill="#F14040"/>
<circle cx="505.3" cy="4192.1" r="13.6" fill="#F14040"/>
<circle cx="580.8" cy="4172.1" r="13.6" fill="#F14040"/>
<circle cx="656.2" cy="4162.1" r="13.6" fill="#F14040"/>
<circle cx="731.6" cy="4132.2" r="13.6" fill="#F14040"/>
<circle cx="807.1" cy="4092.2" r="13.6" fill="#F14040"/>
<circle cx="882.5" cy="4062.3" r="13.6" fill="#F14040"/>
<circle cx="958" cy="3992.4" r="13.6" fill="#F14040"/>
<circle cx="1033.5" cy="3962.5" r="13.6" fill="#F14040"/>
<circle cx="1108.9" cy="3832.7" r="13.6" fill="#F14040"/>
<circle cx="1184.3" cy="3553.2" r="13.6" fill="#F14040"/>
<circle cx="1259.8" cy="3503.2" r="13.6" fill="#F14040"/>
<circle cx="1335.2" cy="3463.3" r="13.6" fill="#F14040"/>
<circle cx="1410.7" cy="3393.4" r="13.6" fill="#F14040"/>
<path d="M354.4 4122.2 L429.9 4122.2 L505.3 4112.2 L580.8 4092.2 L656.2 4072.3 L731.6 4062.3 L807.1 4022.4 L882.5 3962.5 L958 3922.5 L1033.5 3812.7 L1108.9 3852.6 L1184.3 3742.8 L1259.8 3583.1 L1335.2 3433.4 L1410.7 3303.6" fill="none" stroke="#1A6FDF" stroke-width="2" stroke-linejoin="round" stroke-linecap="butt"/>
<path d="M354.4 4103.6 L370.3 4131.4 L338.5 4131.4 Z" fill="#1A6FDF"/>
<path d="M429.9 4103.6 L445.8 4131.4 L414 4131.4 Z" fill="#1A6FDF"/>
<path d="M505.3 4093.6 L521.2 4121.4 L489.4 4121.4 Z" fill="#1A6FDF"/>
<path d="M580.8 4073.6 L596.6 4101.4 L564.9 4101.4 Z" fill="#1A6FDF"/>
<path d="M656.2 4053.7 L672.1 4081.5 L640.3 4081.5 Z" fill="#1A6FDF"/>
<path d="M731.6 4043.7 L747.5 4071.5 L715.8 4071.5 Z" fill="#1A6FDF"/>
<path d="M807.1 4003.8 L823 4031.6 L791.2 4031.6 Z" fill="#1A6FDF"/>
<path d="M882.5 3943.9 L898.4 3971.7 L866.6 3971.7 Z" fill="#1A6FDF"/>
<path d="M958 3903.9 L973.9 3931.7 L942.1 3931.7 Z" fill="#1A6FDF"/>
<path d="M1033.5 3794.1 L1049.4 3821.9 L1017.6 3821.9 Z" fill="#1A6FDF"/>
<path d="M1108.9 3834 L1124.8 3861.8 L1093 3861.8 Z" fill="#1A6FDF"/>
<path d="M1184.3 3724.2 L1200.2 3752 L1168.4 3752 Z" fill="#1A6FDF"/>
<path d="M1259.8 3564.5 L1275.7 3592.3 L1243.9 3592.3 Z" fill="#1A6FDF"/>
<path d="M1335.2 3414.8 L1351.2 3442.6 L1319.3 3442.6 Z" fill="#1A6FDF"/>
<path d="M1410.7 3285 L1426.6 3312.8 L1394.8 3312.8 Z" fill="#1A6FDF"/>
<rect x="201" y="3191.9" width="5" height="1122.6" fill="#000"/>
<rect x="182" y="4290" width="1382.1" height="5" fill="#000"/>
<rect x="192" y="4190.2" width="9" height="5" fill="#000"/>
<rect x="182" y="4090.3" width="19" height="5" fill="#000"/>
<rect x="192" y="3990.5" width="9" height="5" fill="#000"/>
<rect x="182" y="3890.7" width="19" height="5" fill="#000"/>
<rect x="192" y="3790.8" width="9" height="5" fill="#000"/>
<rect x="182" y="3691" width="19" height="5" fill="#000"/>
<rect x="192" y="3591.2" width="9" height="5" fill="#000"/>
<rect x="182" y="3491.4" width="19" height="5" fill="#000"/>
<rect x="192" y="3391.5" width="9" height="5" fill="#000"/>
<rect x="182" y="3291.7" width="19" height="5" fill="#000"/>
<rect x="192" y="3191.9" width="9" height="5" fill="#000"/>
<rect x="201" y="4292.5" width="5" height="22" fill="#000"/>
<rect x="276.4" y="4292.5" width="5" height="11.3" fill="#000"/>
<rect x="351.9" y="4292.5" width="5" height="22" fill="#000"/>
<rect x="427.4" y="4292.5" width="5" height="11.3" fill="#000"/>
<rect x="502.8" y="4292.5" width="5" height="22" fill="#000"/>
<rect x="578.2" y="4292.5" width="5" height="11.3" fill="#000"/>
<rect x="653.7" y="4292.5" width="5" height="22" fill="#000"/>
<rect x="729.1" y="4292.5" width="5" height="11.3" fill="#000"/>
<rect x="804.6" y="4292.5" width="5" height="22" fill="#000"/>
<rect x="880" y="4292.5" width="5" height="11.3" fill="#000"/>
<rect x="955.5" y="4292.5" width="5" height="22" fill="#000"/>
<rect x="1031" y="4292.5" width="5" height="11.3" fill="#000"/>
<rect x="1106.4" y="4292.5" width="5" height="22" fill="#000"/>
<rect x="1181.8" y="4292.5" width="5" height="11.3" fill="#000"/>
<rect x="1257.3" y="4292.5" width="5" height="22" fill="#000"/>
<rect x="1332.8" y="4292.5" width="5" height="11.3" fill="#000"/>
<rect x="1408.2" y="4292.5" width="5" height="22" fill="#000"/>
<rect x="1483.7" y="4292.5" width="5" height="11.3" fill="#000"/>
<rect x="1559.1" y="4292.5" width="5" height="22" fill="#000"/>
<text class="ta" transform="translate(89.17 4305.70) scale(0.9630 1)" font-size="48.50">420</text>
<text class="ta" transform="translate(89.17 4106.04) scale(0.9630 1)" font-size="48.50">440</text>
<text class="ta" transform="translate(89.17 3906.38) scale(0.9630 1)" font-size="48.50">460</text>
<text class="ta" transform="translate(89.17 3706.72) scale(0.9630 1)" font-size="48.50">480</text>
<text class="ta" transform="translate(89.17 3507.06) scale(0.9630 1)" font-size="48.50">500</text>
<text class="ta" transform="translate(89.17 3307.40) scale(0.9630 1)" font-size="48.50">520</text>
<text class="ta" transform="translate(164.27 4364.80) scale(0.9630 1)" font-size="48.50">280</text>
<text class="ta" transform="translate(315.40 4364.80) scale(0.9630 1)" font-size="48.50">300</text>
<text class="ta" transform="translate(466.30 4364.80) scale(0.9630 1)" font-size="48.50">320</text>
<text class="ta" transform="translate(617.20 4364.80) scale(0.9630 1)" font-size="48.50">340</text>
<text class="ta" transform="translate(768.10 4364.80) scale(0.9630 1)" font-size="48.50">360</text>
<text class="ta" transform="translate(919.00 4364.80) scale(0.9630 1)" font-size="48.50">380</text>
<text class="ta" transform="translate(1070.37 4364.80) scale(0.9630 1)" font-size="48.50">400</text>
<text class="ta" transform="translate(1221.27 4364.80) scale(0.9630 1)" font-size="48.50">420</text>
<text class="ta" transform="translate(1372.17 4364.80) scale(0.9630 1)" font-size="48.50">440</text>
<text class="ta" transform="translate(1523.07 4364.80) scale(0.9630 1)" font-size="48.50">460</text>
<text class="ta" transform="translate(541.95 4451.90) scale(0.9702 1)" font-size="58.58">Excitation wavelenght (nm)</text>
<text class="ta" transform="translate(65.60 4071.52) rotate(-90) scale(0.9892 1)" font-size="57.12">Emission wavelenght (nm)</text>
<rect x="391.1" y="3390.3" width="127.7" height="2" fill="#1A6FDF"/>
<path d="M454.4 3372.7 L470.3 3400.5 L438.5 3400.5 Z" fill="#1A6FDF"/>
<text class="ta b" transform="translate(533.32 3410.50) scale(0.9893 1)" font-size="57.41">Hydrothermal-CDs</text>
<rect x="391.1" y="3462.7" width="127.7" height="2" fill="#F14040"/>
<circle cx="454.4" cy="3463.7" r="13.6" fill="#F14040"/>
<text class="ta b" transform="translate(533.30 3482.40) scale(0.9877 1)" font-size="57.85">Microwave-CDs</text>
<rect x="391.1" y="3534.7" width="127.7" height="2" fill="#515151"/>
<rect x="442.4" y="3523.7" width="24" height="24" fill="#515151"/>
<text class="ta b" transform="translate(533.53 3553.80) scale(0.9853 1)" font-size="57.70">Calcinated-CDs</text>
<text class="ts" transform="translate(1844.52 4554.90) scale(0.9815 1)" font-size="88.70">III</text>
</svg>
</body>
</html>
